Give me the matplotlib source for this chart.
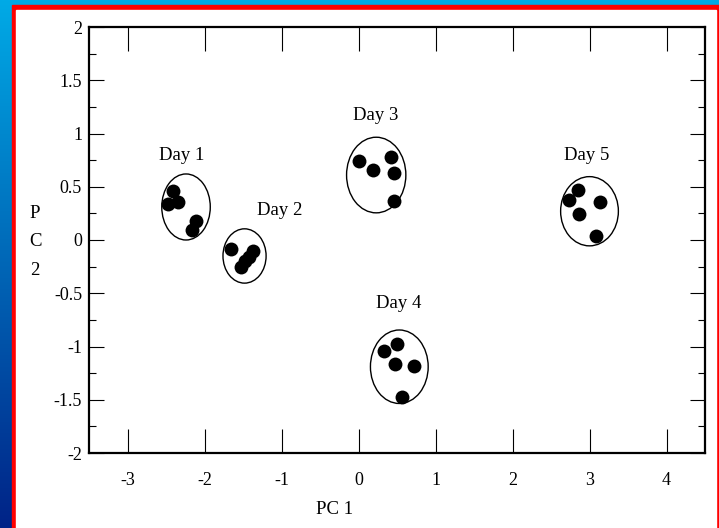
import numpy as np
import matplotlib.pyplot as plt
from matplotlib.patches import Ellipse, Rectangle

plt.rcParams['font.family'] = ['Liberation Serif', 'DejaVu Serif']
plt.rcParams['axes.unicode_minus'] = False

# PCA scores per day (PC1, PC2)
day1_x = [-2.41, -2.47, -2.34, -2.11, -2.16]
day1_y = [0.46, 0.34, 0.36, 0.18, 0.09]
day2_x = [-1.65, -1.37, -1.42, -1.47, -1.52]
day2_y = [-0.08, -0.10, -0.16, -0.20, -0.25]
day3_x = [0.00, 0.19, 0.42, 0.46, 0.46]
day3_y = [0.74, 0.66, 0.78, 0.63, 0.37]
day4_x = [0.33, 0.50, 0.48, 0.72, 0.57]
day4_y = [-1.04, -0.98, -1.16, -1.18, -1.47]
day5_x = [2.85, 2.74, 3.14, 2.87, 3.08]
day5_y = [0.47, 0.38, 0.36, 0.24, 0.04]

groups = [(day1_x, day1_y), (day2_x, day2_y), (day3_x, day3_y),
          (day4_x, day4_y), (day5_x, day5_y)]

# ellipse centre x, centre y, width, height
ell_cx = [-2.24, -1.48, 0.23, 0.53, 3.00]
ell_cy = [0.31, -0.15, 0.61, -1.19, 0.27]
ell_w = [0.63, 0.56, 0.77, 0.75, 0.75]
ell_h = [0.62, 0.51, 0.71, 0.69, 0.65]

labels = ['Day 1', 'Day 2', 'Day 3', 'Day 4', 'Day 5']
label_x = [-2.29, -1.03, 0.22, 0.52, 2.96]
label_y = [0.79, 0.28, 1.17, -0.60, 0.79]

xticks = [-3, -2, -1, 0, 1, 2, 3, 4]
yticks = [-2, -1.5, -1, -0.5, 0, 0.5, 1, 1.5, 2]
ytick_labels = ['-2', '-1.5', '-1', '-0.5', '0', '0.5', '1', '1.5', '2']

W, H = 719, 528
fig = plt.figure(figsize=(W / 100, H / 100), dpi=100)

# blue gradient background
bg = fig.add_axes([0, 0, 1, 1], zorder=-10)
grad = np.linspace(0, 1, 256).reshape(-1, 1)
top = np.array([0, 170, 230]) / 255
bot = np.array([0, 35, 135]) / 255
img = top[None, None, :] * (1 - grad[:, :, None]) + bot[None, None, :] * grad[:, :, None]
bg.imshow(img, aspect='auto', extent=[0, W, H, 0])
bg.add_patch(Rectangle((12, 5), W - 12, H, color='red'))
bg.add_patch(Rectangle((16, 10), 700, H, color='white'))
bg.set_xlim(0, W)
bg.set_ylim(H, 0)
bg.axis('off')

ax = fig.add_axes([89 / W, 1 - 453 / H, (705 - 89) / W, (453 - 27) / H])
ax.set_facecolor('white')

for (gx, gy) in groups:
    ax.scatter(gx, gy, s=100, color='black', lw=0, zorder=3)

for cx, cy, w, h in zip(ell_cx, ell_cy, ell_w, ell_h):
    ax.add_patch(Ellipse((cx, cy), w, h, fill=False, ec='black', lw=1.0))

for t, lx, ly in zip(labels, label_x, label_y):
    ax.text(lx, ly, t, ha='center', va='center', fontsize=13.5)

ax.set_xlim(-3.5, 4.5)
ax.set_ylim(-2, 2)
ax.set_xticks(xticks)
ax.set_xticklabels([str(v) for v in xticks])
ax.set_yticks(yticks)
ax.set_yticklabels(ytick_labels)
ax.set_yticks(np.arange(-1.75, 2, 0.5), minor=True)

ax.tick_params(axis='x', which='major', direction='in', length=17, width=0.8,
               top=True, bottom=True, pad=14, labelsize=13)
ax.tick_params(axis='y', which='major', direction='in', length=11, width=0.8,
               left=True, right=True, pad=5, labelsize=13)
ax.tick_params(axis='y', which='minor', direction='in', length=5, width=0.8,
               left=True, right=True)
for sp in ax.spines.values():
    sp.set_linewidth(1.6)

fig.text(335 / W, 1 - 510 / H, 'PC 1', ha='center', va='center', fontsize=13.5)
fig.text(35 / W, 1 - 242 / H, 'P\nC\n2', ha='center', va='center',
         fontsize=13.5, linespacing=1.85)

fig.savefig('out.png', dpi=100)
